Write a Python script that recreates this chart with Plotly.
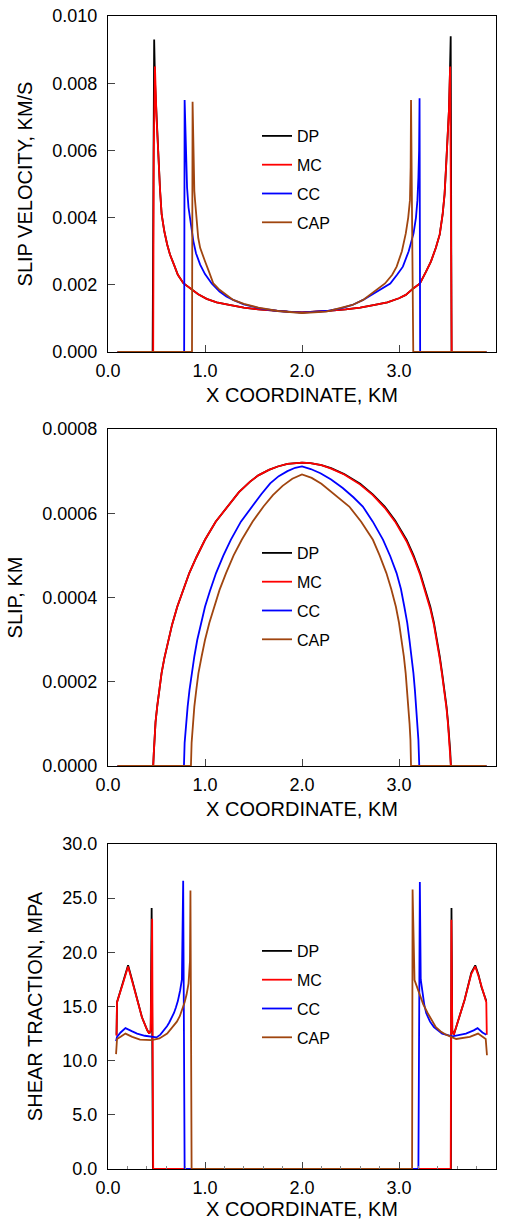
import plotly.graph_objects as go

# ---------------- data ----------------
series_names = ["DP", "MC", "CC", "CAP"]
series_colors = ["#000000", "#ff0000", "#0000ff", "#a0450f"]

x_tick_vals = [0.0, 1.0, 2.0, 3.0, 4.0]
vel_tick_vals = [0.000, 0.002, 0.004, 0.006, 0.008, 0.010]
slip_tick_vals = [0.0000, 0.0002, 0.0004, 0.0006, 0.0008]
trac_tick_vals = [0.0, 5.0, 10.0, 15.0, 20.0, 25.0, 30.0]

# Panel 1: slip velocity, km/s
dp_vel_x = [0.10, 0.460, 0.468, 0.476, 0.485, 0.50, 0.52, 0.537, 0.553, 0.58, 0.61, 0.639, 0.68, 0.72, 0.777, 0.85, 0.93,
            1.017, 1.12, 1.25, 1.40, 1.55, 1.70, 1.85, 2.00, 2.15, 2.30, 2.45, 2.60, 2.75, 2.88, 3.00, 3.07, 3.15,
            3.216, 3.28, 3.33, 3.38, 3.42, 3.45, 3.47, 3.485, 3.50, 3.515, 3.525, 3.533, 3.542, 3.90]
dp_vel_y = [0, 0, 0.0050, 0.0093, 0.0080, 0.0070, 0.0057, 0.0048, 0.0041, 0.0036, 0.0032, 0.0029, 0.0026, 0.0023, 0.00205, 0.0019, 0.00172,
            0.00158, 0.00148, 0.0014, 0.00132, 0.00127, 0.00123, 0.0012, 0.00118, 0.0012, 0.00123, 0.00127, 0.00132, 0.0014, 0.00148, 0.0016, 0.0017, 0.0019,
            0.00204, 0.0024, 0.0027, 0.0031, 0.0035, 0.0041, 0.0047, 0.0055, 0.0062, 0.0072, 0.0083, 0.0094, 0.0, 0]
mc_vel_x = [0.10, 0.466, 0.472, 0.484, 0.50, 0.52, 0.537, 0.553, 0.58, 0.61, 0.639, 0.68, 0.72, 0.777, 0.85, 0.93,
            1.017, 1.12, 1.25, 1.40, 1.55, 1.70, 1.85, 2.00, 2.15, 2.30, 2.45, 2.60, 2.75, 2.88, 3.00, 3.07, 3.15,
            3.216, 3.28, 3.33, 3.38, 3.42, 3.45, 3.47, 3.485, 3.50, 3.515, 3.527, 3.543, 3.90]
mc_vel_y = [0, 0, 0.0060, 0.0085, 0.0070, 0.0057, 0.0048, 0.0041, 0.0036, 0.0032, 0.0029, 0.0026, 0.0023, 0.00205, 0.0019, 0.00172,
            0.00158, 0.00148, 0.0014, 0.00132, 0.00127, 0.00123, 0.0012, 0.00118, 0.0012, 0.00123, 0.00127, 0.00132, 0.0014, 0.00148, 0.0016, 0.0017, 0.0019,
            0.00204, 0.0024, 0.0027, 0.0031, 0.0035, 0.0041, 0.0047, 0.0055, 0.0062, 0.0072, 0.0085, 0.0, 0]
cc_vel_x = [0.10, 0.785, 0.790, 0.800, 0.815, 0.83, 0.86, 0.88, 0.907, 0.95, 1.00, 1.069, 1.15, 1.22, 1.29, 1.40, 1.567, 1.75, 2.00,
            2.25, 2.40, 2.52, 2.63, 2.72, 2.80, 2.91, 2.98, 3.04, 3.10, 3.15, 3.175, 3.19, 3.20, 3.207, 3.212, 3.218, 3.90]
cc_vel_y = [0, 0, 0.0075, 0.0060, 0.0049, 0.0043, 0.0036, 0.0033, 0.00294, 0.0026, 0.00232, 0.00204, 0.0018, 0.00165, 0.00155, 0.00142, 0.0013, 0.00122, 0.00117,
            0.00122, 0.0013, 0.0014, 0.00155, 0.0017, 0.00185, 0.00204, 0.0023, 0.00254, 0.0030, 0.00353, 0.0040, 0.00452, 0.0052, 0.0060, 0.00755, 0, 0]
cap_vel_x = [0.10, 0.866, 0.872, 0.880, 0.890, 0.897, 0.91, 0.93, 0.95, 0.973, 1.00, 1.04, 1.086, 1.15, 1.22, 1.29, 1.40, 1.55, 1.75, 2.00,
             2.25, 2.40, 2.52, 2.63, 2.75, 2.856, 2.93, 2.976, 3.03, 3.07, 3.095, 3.113, 3.12, 3.124, 3.147, 3.90]
cap_vel_y = [0, 0, 0.00745, 0.0058, 0.0048, 0.00452, 0.0040, 0.0034, 0.0031, 0.00294, 0.0027, 0.0024, 0.00204, 0.00185, 0.0017, 0.00155, 0.00143, 0.00132, 0.00122, 0.00116,
             0.0012, 0.0013, 0.0014, 0.00155, 0.0018, 0.00204, 0.0023, 0.00254, 0.0030, 0.00353, 0.0040, 0.00452, 0.0055, 0.0075, 0, 0]

# Panel 2: slip, km (values in units of 1e-4 km)
dp_slip_x = [0.10, 0.466, 0.472, 0.480, 0.490, 0.507, 0.52, 0.552, 0.58, 0.621, 0.66, 0.714, 0.77, 0.838, 0.91, 1.000, 1.11, 1.231, 1.35,
             1.465, 1.55, 1.659, 1.75, 1.850, 1.92, 2.000, 2.087, 2.20, 2.30, 2.435, 2.60, 2.73, 2.853, 2.96, 3.079, 3.15, 3.218,
             3.27, 3.323, 3.36, 3.393, 3.42, 3.445, 3.47, 3.490, 3.505, 3.521, 3.528, 3.535, 3.90]
dp_slip_e4 = [0, 0, 0.30, 0.73, 1.04, 1.41, 1.65, 2.20, 2.55, 2.99, 3.35, 3.78, 4.15, 4.58, 4.95, 5.37, 5.80, 6.16, 6.50,
              6.75, 6.90, 7.03, 7.11, 7.17, 7.19, 7.20, 7.19, 7.14, 7.07, 6.93, 6.70, 6.45, 6.16, 5.83, 5.37, 5.00, 4.58,
              4.20, 3.78, 3.40, 2.99, 2.60, 2.20, 1.80, 1.41, 1.05, 0.62, 0.35, 0, 0]
mc_slip_x = dp_slip_x
mc_slip_e4 = [0, 0, 0.30, 0.73, 1.04, 1.41, 1.65, 2.20, 2.55, 2.99, 3.35, 3.78, 4.15, 4.58, 4.95, 5.37, 5.80, 6.16, 6.50,
              6.75, 6.90, 7.03, 7.11, 7.17, 7.19, 7.20, 7.19, 7.14, 7.06, 6.92, 6.68, 6.43, 6.13, 5.80, 5.33, 4.96, 4.54,
              4.15, 3.73, 3.35, 2.94, 2.55, 2.15, 1.75, 1.36, 1.00, 0.57, 0.30, 0, 0]
cc_slip_x = [0.10, 0.783, 0.790, 0.800, 0.821, 0.84, 0.862, 0.89, 0.920, 0.96, 1.000, 1.05, 1.114, 1.19, 1.266, 1.37, 1.483, 1.58,
             1.672, 1.76, 1.85, 1.93, 2.000, 2.09, 2.19, 2.30, 2.42, 2.53, 2.627, 2.73, 2.836, 2.91, 2.975, 3.02, 3.055, 3.085,
             3.108, 3.13, 3.149, 3.164, 3.176, 3.19, 3.200, 3.209, 3.90]
cc_slip_e4 = [0, 0, 0.55, 0.90, 1.41, 1.80, 2.20, 2.60, 2.99, 3.40, 3.78, 4.15, 4.58, 5.00, 5.37, 5.80, 6.16, 6.45,
              6.71, 6.88, 7.00, 7.08, 7.11, 7.05, 6.95, 6.80, 6.60, 6.38, 6.16, 5.80, 5.37, 4.98, 4.58, 4.20, 3.78, 3.40,
              2.99, 2.60, 2.20, 1.80, 1.41, 1.00, 0.62, 0, 0]
cap_slip_x = [0.10, 0.855, 0.862, 0.872, 0.890, 0.91, 0.932, 0.965, 1.000, 1.045, 1.093, 1.15, 1.217, 1.295, 1.379, 1.49, 1.603,
              1.70, 1.80, 1.90, 2.00, 2.10, 2.20, 2.35, 2.487, 2.61, 2.731, 2.80, 2.870, 2.92, 2.968, 3.00, 3.027, 3.05,
              3.069, 3.084, 3.097, 3.109, 3.118, 3.124, 3.90]
cap_slip_e4 = [0, 0, 0.55, 0.95, 1.41, 1.80, 2.20, 2.60, 2.99, 3.40, 3.78, 4.18, 4.58, 5.00, 5.37, 5.80, 6.16,
               6.43, 6.65, 6.82, 6.92, 6.84, 6.70, 6.42, 6.16, 5.80, 5.37, 5.00, 4.58, 4.20, 3.78, 3.40, 2.99, 2.60,
               2.20, 1.80, 1.41, 1.00, 0.62, 0, 0]

# Panel 3: shear traction, MPa
dp_trac_x = [0.088, 0.093, 0.15, 0.207, 0.25, 0.30, 0.35, 0.405, 0.425, 0.44, 0.450, 0.463,
             3.535, 3.541, 3.549, 3.565, 3.62, 3.676, 3.745, 3.786, 3.82, 3.85, 3.90]
dp_trac_y = [12.4, 15.4, 17.1, 18.8, 17.4, 15.6, 14.0, 12.8, 12.5, 12.8, 24.1, 0,
             0, 24.1, 12.8, 12.4, 14.0, 15.6, 18.1, 18.8, 17.9, 16.8, 15.5]
mc_trac_x = [0.088, 0.093, 0.15, 0.207, 0.25, 0.30, 0.35, 0.405, 0.425, 0.44, 0.455, 0.466,
             3.533, 3.540, 3.549, 3.565, 3.62, 3.676, 3.745, 3.786, 3.82, 3.85, 3.90, 3.905]
mc_trac_y = [12.3, 15.4, 17.0, 18.7, 17.3, 15.6, 14.0, 12.8, 12.5, 12.8, 23.1, 0,
             0, 23.0, 12.8, 12.4, 14.0, 15.6, 18.0, 18.7, 17.8, 16.8, 15.4, 12.4]
cc_trac_x = [0.083, 0.093, 0.13, 0.18, 0.25, 0.30, 0.38, 0.45, 0.50, 0.54, 0.578, 0.61, 0.63, 0.66, 0.68, 0.70, 0.72, 0.744, 0.762, 0.775, 0.790,
             3.200, 3.215, 3.224, 3.24, 3.26, 3.28, 3.32, 3.36, 3.40, 3.445, 3.55, 3.69, 3.77, 3.81, 3.86, 3.90]
cc_trac_y = [11.8, 12.2, 12.6, 13.0, 12.7, 12.5, 12.3, 12.2, 12.15, 12.4, 12.8, 13.2, 13.5, 14.0, 14.4, 14.9, 15.5, 16.5, 17.5, 26.6, 0,
             0, 26.5, 17.5, 16.3, 15.2, 14.4, 13.6, 13.1, 12.8, 12.5, 12.25, 12.5, 12.8, 13.0, 12.6, 12.4]
cap_trac_x = [0.083, 0.093, 0.13, 0.18, 0.25, 0.33, 0.45, 0.53, 0.61, 0.68, 0.71, 0.74, 0.77, 0.79, 0.81, 0.83, 0.845, 0.850, 0.862,
              3.135, 3.140, 3.150, 3.160, 3.19, 3.21, 3.25, 3.295, 3.34, 3.38, 3.43, 3.485, 3.59, 3.73, 3.815, 3.894, 3.907]
cap_trac_y = [10.6, 12.0, 12.2, 12.5, 12.2, 11.95, 11.9, 12.05, 12.5, 13.2, 13.6, 14.1, 14.8, 15.4, 16.1, 17.1, 19.2, 25.7, 0,
              0, 25.8, 19.0, 17.45, 16.7, 16.2, 15.2, 14.4, 13.7, 13.1, 12.7, 12.4, 12.0, 12.2, 12.5, 12.0, 10.5]

SLIP_UNIT = 1e-4
panels = [
    ([dp_vel_x, mc_vel_x, cc_vel_x, cap_vel_x], [dp_vel_y, mc_vel_y, cc_vel_y, cap_vel_y]),
    ([dp_slip_x, mc_slip_x, cc_slip_x, cap_slip_x],
     [[v * SLIP_UNIT for v in s] for s in (dp_slip_e4, mc_slip_e4, cc_slip_e4, cap_slip_e4)]),
    ([dp_trac_x, mc_trac_x, cc_trac_x, cap_trac_x], [dp_trac_y, mc_trac_y, cc_trac_y, cap_trac_y]),
]

# ---------------- figure ----------------
W, H = 507, 1220
FONT = "Liberation Sans, Arial, Helvetica, sans-serif"

fig = go.Figure()
legend_ids = ["legend", "legend2", "legend3"]
for p, (xs, ys) in enumerate(panels):
    suffix = "" if p == 0 else str(p + 1)
    for i, name in enumerate(series_names):
        fig.add_trace(go.Scatter(
            x=xs[i], y=ys[i], mode="lines", name=name,
            line=dict(color=series_colors[i], width=1.8),
            xaxis="x" + suffix, yaxis="y" + suffix,
            legend=legend_ids[p], legendgroup=f"p{p}_{name}",
        ))

def py(px):  # pixel from top -> paper fraction
    return 1 - px / H

x_dom = [108 / W, 496 / W]
y_doms = [[py(352), py(16)], [py(766), py(429)], [py(1169), py(844)]]
y_titles = ["SLIP VELOCITY, KM/S", "SLIP, KM", "SHEAR TRACTION, MPA"]
y_ranges = [[0, 0.010], [0, 0.0008], [0, 30]]
y_ticks = [vel_tick_vals, slip_tick_vals, trac_tick_vals]
y_fmts = [".3f", ".4f", ".1f"]

tick_font = dict(family=FONT, size=18, color="black")
title_font = dict(family=FONT, size=20, color="black")

layout = dict(
    width=W, height=H,
    margin=dict(l=0, r=0, t=0, b=0, autoexpand=False),
    paper_bgcolor="white", plot_bgcolor="white",
    font=dict(family=FONT, color="black"),
    showlegend=True,
)
legend_line_y = [133, 550, 948]
for p in range(3):
    suffix = "" if p == 0 else str(p + 1)
    xa = dict(
        domain=x_dom, anchor="y" + suffix, range=[0, 4.0], automargin=False,
        tickvals=x_tick_vals, tickformat=".1f",
        ticks="inside", ticklen=7, tickwidth=1, tickcolor="#444",
        showline=True, linecolor="black", linewidth=1.3, mirror=True,
        showgrid=False, zeroline=False, tickfont=tick_font,
        ticklabelstandoff=2,
        title=dict(text="X COORDINATE, KM", font=title_font, standoff=8),
    )
    if p == 2:
        xa["minor"] = dict(dtick=0.2, ticks="inside", ticklen=3, tickcolor="#888", showgrid=False)
    ya = dict(
        domain=y_doms[p], anchor="x" + suffix, range=y_ranges[p], automargin=False,
        tickvals=y_ticks[p], tickformat=y_fmts[p],
        ticks="inside", ticklen=7, tickwidth=1, tickcolor="#444",
        showline=True, linecolor="black", linewidth=1.3, mirror=True,
        showgrid=False, zeroline=False, tickfont=tick_font,
        ticklabelstandoff=6,
        title=dict(text=y_titles[p], font=title_font, standoff=14),
    )
    layout["xaxis" + suffix] = xa
    layout["yaxis" + suffix] = ya
    layout[legend_ids[p]] = dict(
        x=257 / W, xanchor="left", y=py(legend_line_y[p] - 14), yanchor="top",
        bgcolor="rgba(0,0,0,0)", borderwidth=0,
        font=dict(family=FONT, size=16, color="black"),
        tracegroupgap=5, traceorder="grouped",
    )

fig.update_layout(**layout)
fig.write_html("out.html")
